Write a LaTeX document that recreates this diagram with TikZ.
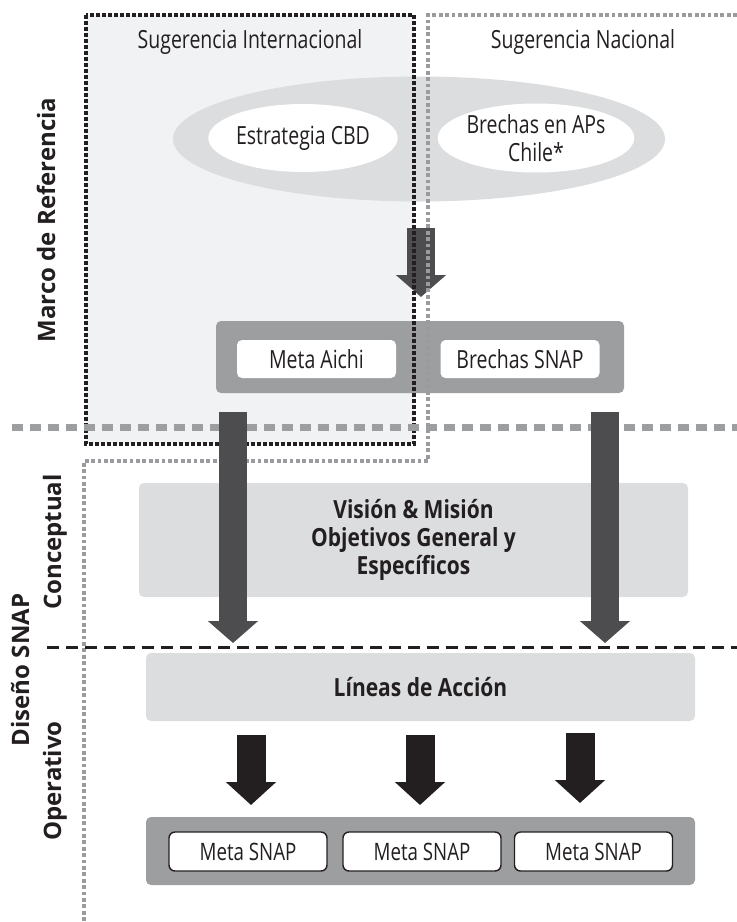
\documentclass[tikz,border=0pt]{standalone}
\usepackage{fontspec}
\setmainfont{Open Sans}[FakeStretch=0.78]
\newfontfamily\sidefont{Open Sans}
\newfontfamily\headfont{Open Sans}[FakeStretch=0.84]
\usepackage{xcolor}
\usetikzlibrary{arrows.meta,shapes.geometric}
\definecolor{paleg}{HTML}{F1F2F4}
\definecolor{ellg}{HTML}{DCDDDF}
\definecolor{midg}{HTML}{9D9EA0}
\definecolor{dotg}{HTML}{9A9B9E}
\definecolor{darkar}{HTML}{4D4D4F}
\definecolor{inkk}{HTML}{231F20}

\begin{document}
\begin{tikzpicture}[
    x=1pt, y=-1pt,
    every node/.style={text=inkk, inner sep=0pt, font=\fontsize{25}{28}\selectfont, align=center},
    lbl/.style={},
    oval/.style={ellipse, fill=white},
    panel/.style={rectangle, rounded corners=5pt, minimum width=549pt, minimum height=68pt},
    headtext/.style={font=\headfont\bfseries\fontsize{25}{28}\selectfont},
    tag/.style={rectangle, rounded corners=5pt, fill=white, minimum width=159pt, minimum height=38pt},
    metabox/.style={rectangle, rounded corners=6pt, fill=white, draw=inkk, line width=1.4pt, minimum width=158pt, minimum height=39pt, font=\fontsize{24}{28}\selectfont},
    side/.style={rotate=90, font=\sidefont\bfseries\fontsize{24}{28}\selectfont},
    darkarrow/.style={draw=darkar, line width=28pt, -{Triangle[width=49pt,length=22pt]}},
    blackarrow/.style={draw=inkk, line width=29pt, -{Triangle[width=49pt,length=23pt]}},
    blackdots/.style={draw=inkk, line width=3.2pt, dash pattern=on 3.6pt off 2.4pt},
    graydots/.style={draw=dotg, line width=3.4pt, dash pattern=on 3.8pt off 2.6pt},
    graydash/.style={draw=midg, line width=7pt, dash pattern=on 11pt off 7pt},
    blackdash/.style={draw=inkk, line width=3pt, dash pattern=on 12pt off 7pt}
]
\useasboundingbox (0,0) rectangle (737,922);

\fill[paleg] (86,15) rectangle (414,444);

\node[lbl] (intl) at (250,42) {Sugerencia Internacional};
\node[lbl] (nac) at (583,42) {Sugerencia Nacional};

\node[ellipse, fill=ellg, minimum width=492pt, minimum height=125pt] (cloud) at (419,139) {};
\node[oval, minimum width=176pt, minimum height=68pt] (cbd) at (303,138) {Estrategia CBD};
\node[oval, minimum width=188pt, minimum height=69pt] (apc) at (536,138) {Brechas en APs\\Chile*};

\node[panel, fill=midg, minimum width=408pt, minimum height=72pt] (ref) at (420,357) {};
\node[tag] (aichi) at (316.5,359) {Meta Aichi};
\node[tag] (brsnap) at (520,359) {Brechas SNAP};

\node[panel, fill=ellg, minimum height=114pt, headtext] (vision) at (413.5,540) {Visión \& Misión\\Objetivos General y\\Específicos};
\node[panel, fill=ellg, headtext] (lineas) at (420.5,687) {Líneas de Acción};
\node[panel, fill=midg] (metas) at (420.5,851) {};
\node[metabox] (m1) at (248,851.5) {Meta SNAP};
\node[metabox] (m2) at (422,851.5) {Meta SNAP};
\node[metabox] (m3) at (593.5,851.5) {Meta SNAP};

\node[side] (marco) at (46,220) {Marco de Referencia};
\node[side] (concep) at (55,542) {Conceptual};
\node[side] (diseno) at (20,670) {Diseño SNAP};
\node[side] (opera) at (55,781) {Operativo};

\coordinate (s0) at (421,228);
\coordinate (e0) at (421,297);
\draw[darkarrow] (s0) -- (e0);

\draw[blackdots] (86,15) rectangle (414,444);
\draw[graydots] (737,15) -- (428,15) -- (428,461) -- (84,461) -- (84,922);
\draw[graydash] (12,427) -- (737,427);
\draw[blackdash] (47,647) -- (737,647);

\coordinate (s1) at (233,412);
\coordinate (e1) at (233,643);
\coordinate (s2) at (605,412);
\coordinate (e2) at (605,643);
\draw[darkarrow] (s1) -- (e1);
\draw[darkarrow] (s2) -- (e2);

\coordinate (t1) at (251,735);
\coordinate (b1) at (251,805);
\coordinate (t2) at (420,735);
\coordinate (b2) at (420,805);
\coordinate (t3) at (580,733);
\coordinate (b3) at (580,803);
\draw[blackarrow] (t1) -- (b1);
\draw[blackarrow] (t2) -- (b2);
\draw[blackarrow] (t3) -- (b3);

\end{tikzpicture}
\end{document}
